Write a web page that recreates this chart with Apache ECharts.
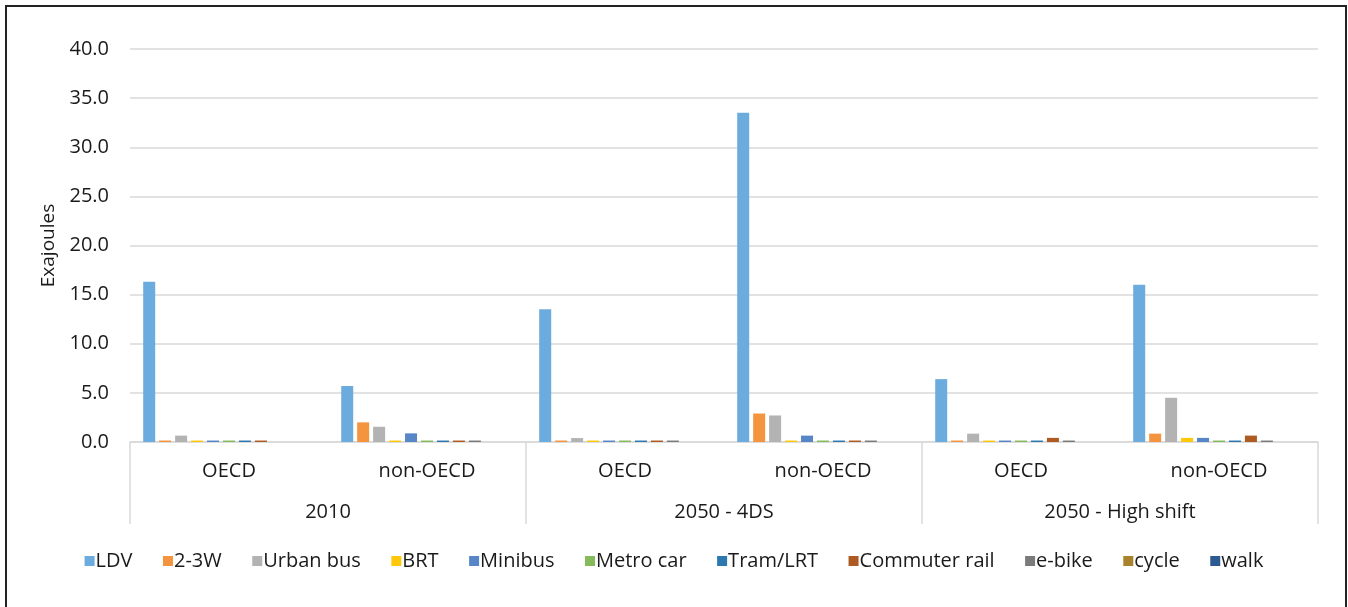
<!DOCTYPE html>
<html>
<head>
<meta charset="utf-8">
<title>Urban passenger transport energy use</title>
<script src="https://cdn.jsdelivr.net/npm/echarts@6/dist/echarts.min.js"></script>
<style>
  html, body { margin: 0; padding: 0; background: #fff; }
  #chart { width: 1348px; height: 607px; }
</style>
</head>
<body>
<div id="chart"></div>
<script>
// ------------------------------------------------------------
// 数据（从图上读取，单位 EJ）
// ------------------------------------------------------------
const regions = ['OECD', 'non-OECD', 'OECD', 'non-OECD', 'OECD', 'non-OECD'];
const scenarios = ['2010', '2050 - 4DS', '2050 - High shift'];
const yTicks = [0, 40, 5];

const modes = ['LDV', '2-3W', 'Urban bus', 'BRT', 'Minibus', 'Metro car',
               'Tram/LRT', 'Commuter rail', 'e-bike', 'cycle', 'walk'];
const modeColors = ['#6CABDD', '#F4943E', '#B3B3B3', '#FFC80A', '#5686C8', '#86BB5C',
                    '#2E78B2', '#AE5A23', '#7B7B7B', '#A8832C', '#2E5A92'];

// 每个模式在 6 个区域/情景中的能耗
const ldv          = [16.3, 5.7, 13.5, 33.5, 6.4, 16.0];
const twoThreeW    = [0.15, 2.0, 0.15, 2.9, 0.15, 0.85];
const urbanBus     = [0.65, 1.55, 0.4, 2.7, 0.85, 4.5];
const brt          = [0.15, 0.15, 0.15, 0.15, 0.15, 0.42];
const minibus      = [0.15, 0.88, 0.15, 0.65, 0.15, 0.42];
const metroCar     = [0.15, 0.15, 0.15, 0.15, 0.15, 0.15];
const tramLrt      = [0.15, 0.15, 0.15, 0.15, 0.15, 0.15];
const commuterRail = [0.15, 0.15, 0.15, 0.15, 0.42, 0.65];
const eBike        = [0, 0.15, 0.15, 0.15, 0.15, 0.15];
const cycle        = [0, 0, 0, 0, 0, 0];
const walk         = [0, 0, 0, 0, 0, 0];

const modeValues = [ldv, twoThreeW, urbanBus, brt, minibus, metroCar,
                    tramLrt, commuterRail, eBike, cycle, walk];

// ------------------------------------------------------------
// 图表
// ------------------------------------------------------------
const FONT = '"Open Sans", "Noto Sans", sans-serif';
const TEXT = '#1a1a1a';
const GRID_LINE = '#d9d9d9';

const chart = echarts.init(document.getElementById('chart'), null, { renderer: 'canvas' });

const series = modes.map(function (name, i) {
    return {
        name: name,
        type: 'bar',
        xAxisIndex: 0,
        barWidth: 12,
        barGap: '33%',
        itemStyle: { color: modeColors[i] },
        emphasis: { disabled: true },
        data: modeValues[i]
    };
});

const option = {
    backgroundColor: '#fff',
    animation: false,
    textStyle: { fontFamily: FONT },
    graphic: [{
        type: 'rect',
        silent: true,
        shape: { x: 6, y: 6, width: 1340, height: 640 },
        style: { fill: 'none', stroke: '#222', lineWidth: 2 }
    }],
    grid: { left: 130, right: 30, top: 49, bottom: 165 },
    legend: {
        bottom: 31,
        left: 'center',
        itemWidth: 10,
        itemHeight: 10,
        itemGap: 30.5,
        icon: 'rect',
        textStyle: { fontFamily: FONT, fontSize: 20, color: TEXT, padding: [0, 0, 0, -4] },
        data: modes
    },
    xAxis: [{
        type: 'category',
        data: regions,
        axisLine: { lineStyle: { color: GRID_LINE, width: 1.5 } },
        axisTick: { show: false },
        axisLabel: { fontFamily: FONT, fontSize: 20, color: TEXT, margin: 19, interval: 0 }
    }, {
        type: 'category',
        data: scenarios,
        position: 'bottom',
        axisLine: { show: false },
        axisTick: { show: true, length: 82, lineStyle: { color: GRID_LINE, width: 1.5 } },
        axisLabel: { fontFamily: FONT, fontSize: 20, color: TEXT, margin: 60, interval: 0 }
    }],
    yAxis: {
        type: 'value',
        min: yTicks[0],
        max: yTicks[1],
        interval: yTicks[2],
        name: 'Exajoules',
        nameLocation: 'middle',
        nameGap: 72,
        nameTextStyle: { fontFamily: FONT, fontSize: 19, color: TEXT },
        axisLine: { show: false },
        axisTick: { show: false },
        axisLabel: {
            fontFamily: FONT, fontSize: 20, color: TEXT, margin: 21,
            formatter: function (v) { return v.toFixed(1); }
        },
        splitLine: { lineStyle: { color: GRID_LINE, width: 1.5 } }
    },
    series: series
};

chart.setOption(option);
</script>
</body>
</html>
